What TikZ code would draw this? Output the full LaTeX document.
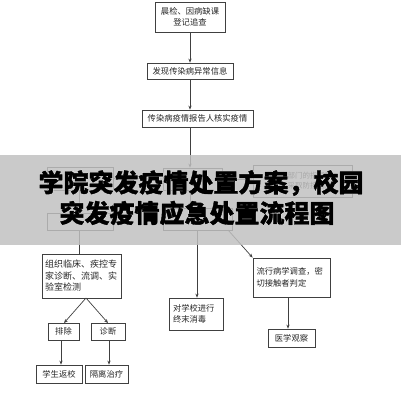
\documentclass[tikz,border=0pt]{standalone}
\usepackage{fontspec}
\setmainfont{Noto Sans CJK SC}
\newfontfamily\titlefont{Noto Sans CJK SC}[BoldFeatures={FakeBold=1.6}]
\newfontfamily\halofont{Noto Sans CJK SC}[BoldFeatures={FakeBold=4}]
\usetikzlibrary{arrows.meta,calc}
\definecolor{veil}{RGB}{192,192,192}
\begin{document}
\begin{tikzpicture}[x=1pt,y=-1pt,
  box/.style={draw=black!75, line width=0.7pt, fill=white, inner sep=0pt,
    font=\fontsize{8.3}{11.5}\selectfont, text=black!85, align=center},
  lbox/.style={box, align=left},
  arr/.style={draw=black!75, line width=0.7pt, -{Stealth[length=4pt,width=3.2pt]}},
  ln/.style={draw=black!75, line width=0.7pt},
  ttl/.style={font=\titlefont\bfseries\fontsize{25}{25}\selectfont, inner sep=0pt},
  halo/.style={font=\halofont\bfseries\fontsize{25}{25}\selectfont, inner sep=0pt, text=white!92!black}]
\useasboundingbox (0,0) rectangle (401,400);
\fill[white] (0,0) rectangle (401,400);

% top chain
\node[box, minimum width=70pt, minimum height=30pt] (b1) at (190,17) {晨检、因病缺课\\登记追查};
\node[box, minimum width=86pt, minimum height=16pt] (b2) at (190,71) {发现传染病异常信息};
\node[box, minimum width=111pt, minimum height=17pt] (b3) at (197.5,118.5) {传染病疫情报告人核实疫情};

% middle (under the banner)
\node[box, minimum width=66pt, minimum height=23pt] (l1) at (80,178.5) {};
\node[box, minimum width=59pt, minimum height=22pt] (m1) at (192.5,179) {};
\node[box, minimum width=99pt, minimum height=32pt, font=\fontsize{7.5}{10}\selectfont] (r1) at (302.5,181) {在卫生部门的指导下，\\果断采取防控措施};
\node[box, minimum width=66pt, minimum height=17pt] (l2) at (80,221.5) {};
\node[box, minimum width=69pt, minimum height=22pt] (m2) at (197.5,219) {};

% lower part
\node[lbox, minimum width=79pt, minimum height=44pt, text width=73pt,
  font=\fontsize{9}{11.5}\selectfont] (c) at (81.5,276) {组织临床、疾控专\\家诊断、流调、实\\验室检测};
\node[box, minimum width=31pt, minimum height=17pt] (e1) at (63.5,331.5) {排除};
\node[box, minimum width=34pt, minimum height=17pt] (e2) at (108,331.5) {诊断};
\node[box, minimum width=46pt, minimum height=18pt] (f1) at (59,374) {学生返校};
\node[box, minimum width=43pt, minimum height=18pt] (f2) at (106.5,374) {隔离治疗};
\node[lbox, minimum width=54pt, minimum height=32pt, text width=46pt] (d) at (196,314) {对学校进行\\终末消毒};
\node[lbox, minimum width=77pt, minimum height=39pt, text width=70pt] (p) at (291.5,277.5) {流行病学调查，密\\切接触者判定};
\node[box, minimum width=47pt, minimum height=18pt] (q) at (291.5,338) {医学观察};

\coordinate (x190) at (190,0);
% connectors
\draw[arr] (b1.south) -- (b1.south |- b2.north);
\draw[arr] (b2.south) -- (b2.south |- b3.north);
\draw[arr] (x190 |- b3.south) -- (x190 |- m1.north);
\draw[arr] (m1.west) -- (l1.east);
\draw[arr] (m1.east) -- (r1.west |- m1.east);
\draw[ln] ([xshift=-1pt]l1.south) -- ([xshift=-1pt]l1.south |- l2.north);
\draw[arr] (x190 |- m1.south) -- (x190 |- m2.north);
\draw[ln] ([xshift=-1pt]l2.south) -- ([xshift=-1pt]l2.south |- c.north);
\coordinate (dtop) at (197,0);
\draw[arr] (dtop |- m2.south) -- (dtop |- d.north);
\coordinate (mdiag) at (228,230);
\draw[arr] (mdiag) -- (p.north west);
\coordinate (capex) at (86,298);
\coordinate (e1t) at (64,323);
\coordinate (e2t) at (108,323);
\draw[arr] (capex) -- (e1t);
\draw[arr] (capex) -- (e2t);
\coordinate (a1) at (61,0);
\coordinate (a2) at (109,0);
\draw[arr] (a1 |- e1.south) -- (a1 |- f1.north);
\draw[arr] (a2 |- e2.south) -- (a2 |- f2.north);
\coordinate (a3) at (288,0);
\draw[arr] (a3 |- p.south) -- (a3 |- q.north);

% banner veil
\fill[veil, opacity=0.84] (0,155) rectangle (401,245);

% title with light halo
\node[halo] (h1) at (201,183) {学院突发疫情处置方案，校园};
\node[halo] (h2) at (197,213) {突发疫情应急处置流程图};
\node[ttl, text=black] (t1) at (201,183) {学院突发疫情处置方案，校园};
\node[ttl, text=black] (t2) at (197,213) {突发疫情应急处置流程图};
\end{tikzpicture}
\end{document}
